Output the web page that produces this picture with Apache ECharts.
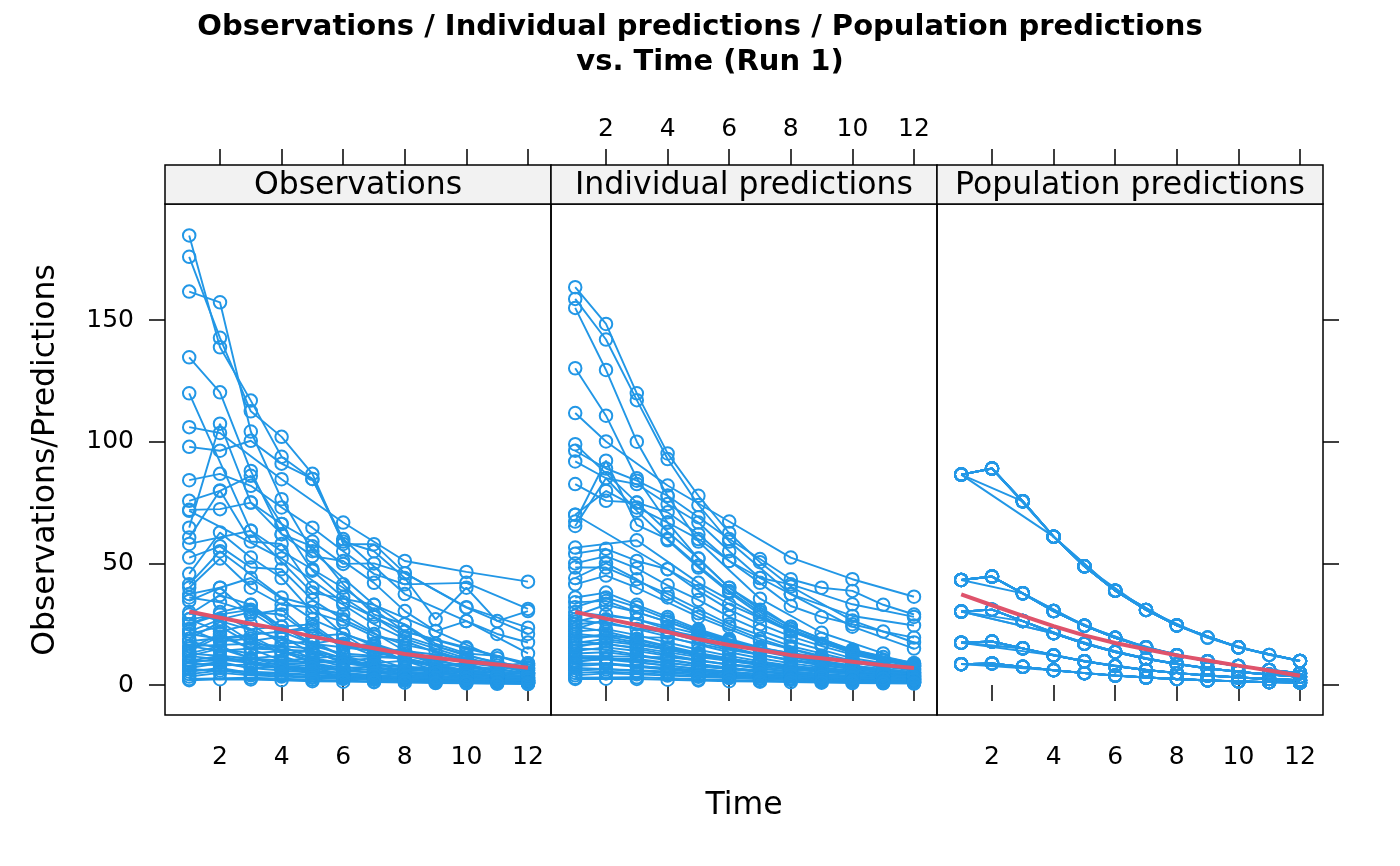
<!DOCTYPE html>
<html>
<head>
<meta charset="utf-8">
<title>Observations / Individual predictions / Population predictions vs. Time</title>
<script src="https://cdn.jsdelivr.net/npm/echarts@6.0.0/dist/echarts.min.js"></script>
<style>
  html, body { margin: 0; padding: 0; background: #fff; }
  #mychart { width: 1400px; height: 866px; }
</style>
</head>
<body>
<div id="mychart"></div>
<script>
// sampling times (h)
var times = [1, 2, 3, 4, 5, 6, 7, 8, 9, 10, 11, 12]
var panelNames = ['Observations', 'Individual predictions', 'Population predictions']
var xTicks = [2, 4, 6, 8, 10, 12]
var yTicks = [0, 50, 100, 150]

// population prediction per dose group
var predGroupA = [86.5, 89.0, 75.5, 61.0, 48.8, 38.8, 30.9, 24.5, 19.5, 15.5, 12.4, 9.9]
var predGroupB = [43.2, 44.6, 37.7, 30.4, 24.4, 19.4, 15.5, 12.3, 9.8, 7.8, 6.2, 4.9]
var predGroupC = [30.2, 31.0, 26.3, 21.3, 17.0, 13.6, 10.8, 8.6, 6.8, 5.4, 4.3, 3.4]
var predGroupD = [17.4, 17.9, 15.1, 12.2, 9.8, 7.8, 6.2, 4.9, 3.9, 3.1, 2.5, 2.0]
var predGroupE = [8.6, 8.9, 7.5, 6.1, 4.9, 3.9, 3.1, 2.5, 1.9, 1.5, 1.2, 1.0]

// dose group of each subject (0=A .. 4=E)
var subjectGroup = [0, 0, 0, 0, 0, 0, 0, 0, 1, 0, 0, 1, 1, 1, 1, 1, 1, 1, 0,
    1, 2, 1, 2, 1, 2, 2, 2, 2, 2, 2, 2, 2, 3, 3, 3, 3, 2, 3, 3, 3, 3, 4, 3, 4, 3, 4, 4, 3, 4, 4, 4, 4, 4, 4]

// individual predictions, one row per subject (null = not sampled)
var subjectIpred = [
    [163.5, 148.4, 119.9, 95.2, 77.8, 62.5, 50.5, 40.5, null, 26.5, null, 17.5],
    [158.7, 142, 117.1, 92.9, 74, 59, null, 37.4, null, 24, null, 15],
    [155, 129.5, 100, 77.8, 59, null, 35.5, null, 21.5, null, 13, null],
    [130.2, 110.7, 85, 66.8, 52, 40, 31, 24, 19, 14.5, 11.5, 9],
    [111.8, 100.1, null, 82, null, 67.2, null, 52.4, null, 43.5, null, 36.3],
    [96.3, 89, 84, 77.8, 69, 60, 51.8, 43.5, 40, 38.7, 33, 29],
    [91.9, 85, 82.6, 74.4, 66.8, 55, 44, 41.4, null, 33.2, null, 28],
    [82.6, 75.7, 75, 71, 62, 51, 44, 37.4, null, 28.4, null, 24.5],
    [70, 79.8, 73, 66.8, 60, 51, 42, 32.5, 28, 25, 22, 19.5],
    [99, null, 75, 63, 52, 40, null, 24, null, 14, null, 8.5],
    [67.2, 92.2, 65.8, 60, 49, 38.7, 30, 23, null, 13.5, null, 8],
    [65.4, 85, 71.6, 59.5, 48.3, 38, 29, 22, null, 13, null, 7.8],
    [56.5, null, 59.5, null, 42, null, 28, null, 17, null, 10.5, 8.2],
    [54, 56, 51, 47.6, 38.7, 31, 25, 20, 16, 12.5, 10, 7.6],
    [50, 53, 48, 41, 35, 28, 22.5, 18, null, 11, null, 7],
    [48.3, 48.3, null, 37.5, null, 25, null, 16, null, 10, null, 6.3],
    [44, 50, 43.5, 36, 29.5, 24, 19, 15, 12, 9.5, 7.5, 6],
    [41.4, 45, 40, null, 28, null, 18, null, 11.5, null, 7.2, null],
    [70, null, null, 47.6, null, 33.2, null, 22, null, 14.5, null, 9],
    [36, 38, 33, 28, 23, 19, 15.5, 12.5, 10, 8, 6.5, 5.2],
    [34, 34.6, 30, 26, 21.5, 17.5, 14, 11.5, null, 7.4, null, 4.8],
    [32, 36, 32, 27, 22.5, 18.5, 15, 12, 9.8, 8, 6.5, 5.3],
    [30, null, 27, null, 19, null, 12.5, null, 8, null, 5.1, 4.1],
    [28.5, 33, 30, 26, 22, 18, 14.5, 11.5, 9.2, 7.3, 5.8, 4.6],
    [27, null, null, 21.5, null, 15, null, 10, null, 6.7, null, 4.5],
    [26, 29, 27, 24, 21, 18, 15.5, 13, 11, 9.3, 7.9, 6.7],
    [25, 26, 23, 20, 16.5, 13.5, 11, 8.9, null, 5.8, null, 3.8],
    [24, 22, 19, null, 13.2, null, 8.8, null, 5.9, null, 3.9, null],
    [23, 27, 25, 22.5, 20, 17.5, 15.2, 13.2, 11.5, 10, 8.7, 7.6],
    [22, 23, 20.5, 17.5, 14.5, 12, 9.8, 8, null, 5.3, null, 3.5],
    [21, 20, 17.5, 15, 12.6, 10.5, 8.8, 7.3, 6.1, 5.1, 4.3, 3.6],
    [20, null, null, 19.5, null, 14.5, null, 10.4, null, 7.4, null, 5.3],
    [19, 21, 18.5, 15.5, 12.8, 10.5, 8.5, 6.9, 5.6, 4.5, 3.7, 3],
    [18, null, 15.5, null, 11.5, null, 8.3, null, 5.9, null, 4.2, 3.6],
    [17.3, 19, 17, 14.5, 12, 10, 8.2, 6.7, null, 4.5, null, 3],
    [16.5, 17, 15, 12.5, 10.3, 8.4, 6.8, 5.5, 4.4, 3.6, 2.9, 2.3],
    [15.5, 18, 16.5, null, 12.5, null, 9.1, null, 6.6, null, 4.8, null],
    [15, 14.5, 12.5, 10.5, 8.7, 7.1, 5.8, 4.7, 3.8, 3.1, 2.5, 2],
    [14, 15.5, 14, 12, 10, 8.3, 6.8, 5.6, null, 3.8, null, 2.5],
    [13, 13.5, 12, 10.2, 8.5, 7, 5.8, 4.8, 3.9, 3.2, 2.6, 2.2],
    [12, null, null, 11.5, null, 8.6, null, 6.3, null, 4.6, null, 3.3],
    [11.5, 11, 9.5, 8, 6.6, 5.4, 4.4, 3.6, 2.9, 2.4, 1.9, 1.6],
    [11, null, 10.7, null, 7.7, null, 5.3, null, 3.6, null, 2.5, 2],
    [10, 10.5, 9.3, 8, 6.7, 5.5, 4.5, 3.7, 3, 2.5, 2, 1.7],
    [9.5, 11, 10.2, 9, 7.8, 6.7, 5.7, 4.9, null, 3.6, null, 2.6],
    [9, 8.6, 7.5, 6.3, 5.2, 4.3, 3.5, 2.9, 2.4, 1.9, 1.6, 1.3],
    [8.5, 9, 8, null, 5.7, null, 3.9, null, 2.6, null, 1.7, null],
    [7.8, 8.5, 7.8, 7, 6.1, 5.3, 4.6, 4, 3.5, 3, 2.6, 2.3],
    [7, null, null, 5.6, null, 3.9, null, 2.6, null, 1.8, null, 1.2],
    [6, 6.5, 5.8, 5, 4.2, 3.5, 2.9, 2.4, 2, 1.7, 1.4, 1.2],
    [5, 5.5, 5, 4.3, 3.7, 3.1, 2.6, 2.2, null, 1.5, null, 1.1],
    [4, 4.8, 4.4, 3.9, 3.4, 2.9, 2.5, 2.1, 1.8, 1.5, 1.3, 1.1],
    [3, null, 3.2, null, 2.4, null, 1.8, null, 1.3, null, 0.95, 0.8],
    [2.5, 2.6, 2.5, 2.2, 1.9, 1.6, 1.4, 1.2, 1, 0.85, 0.7, 0.6]
]

// observations, same subjects and sampling
var subjectObs = [
    [176, 142.7, 112.5, 102, 86.8, 58, 57.9, 46, null, 31.8, null, 21],
    [184.8, 138.8, 116.9, 93.8, 84.7, 60, null, 37.4, null, 26.3, null, 13],
    [161.7, 157.3, 104.2, 76.4, 55, null, 33, null, 22.2, null, 11, null],
    [134.7, 120.3, 88, 62, 57, 41.4, 29, 25, 17, 13, 12, 8],
    [106, 103.6, null, 84.6, null, 66.8, null, 51, null, 46.5, null, 42.5],
    [97.9, 96.3, 100.4, 91, 84.7, 59, 55, 44, 27, 40, 26.3, 30.4],
    [84.2, 86.8, 81.9, 73, 64.7, 55, 45.7, 41.4, null, 42, null, 31.3],
    [75.7, 79.8, 86, 66.2, 59, 49.8, 50, 46, null, 32, null, 23.6],
    [72, 72.3, 75, 62, 53, 51, 42, 30.4, 22.2, 26.3, 21, 17.5],
    [119.9, null, 63.4, 55, 47.6, 40, null, 22, null, 15, null, 9],
    [64.7, 107.4, 75, 66.2, 47, 36, 28, 20, null, 12, null, 7],
    [60.6, 80, 59, 58, 40, 33, 25, 19, null, 11, null, 6],
    [58, null, 63.4, null, 38, null, 33, null, 16, null, 9, 7],
    [52.4, 57, 48.3, 47.6, 35, 27, 21, 16.5, 14, 10, 9.5, 7],
    [45.7, 62.7, 52.4, 44, 30, 26, 20, 18, null, 9, null, 6],
    [41.4, 55, null, 36, null, 29, null, 14, null, 11, null, 5],
    [40, 52, 40, 33, 32, 21, 17, 13, 10, 8, 6.5, 5],
    [37.4, 40, 44, null, 27, null, 16, null, 9, null, 6, null],
    [71.6, null, null, 52, null, 34, null, 22, null, 15.5, null, 8.5],
    [34.6, 40, 29, 31, 20, 21, 13, 14, 8, 9, 5, 4.5],
    [29, 37, 33, 22, 24, 15, 16, 10, null, 6, null, 3.5],
    [36, 34, 30, 29, 20, 17, 12, 14, 11, 6.5, 7, 4],
    [27, null, 31, null, 17, null, 14, null, 6, null, 4, 5],
    [25, 30, 33, 24, 25, 16, 15, 10, 8, 8, 4.5, 5],
    [30, null, null, 19, null, 13, null, 11, null, 5, null, 3],
    [22, 27, 30, 22, 23, 16, 17, 12, 10, 11, 7, 8],
    [27, 22, 25, 17, 18, 12, 9, 10, null, 5, null, 2.5],
    [21, 24, 17, null, 15, null, 7, null, 6.5, null, 3, null],
    [25, 29, 23, 24, 17, 19, 13, 15, 10, 11, 8, 9],
    [19, 26, 18, 20, 13, 10, 11, 7, null, 4, null, 3],
    [23, 18, 19, 13, 14, 9, 8, 8, 5, 6, 3.5, 3],
    [18, null, null, 22, null, 12, null, 11, null, 6, null, 5],
    [21, 19, 20, 14, 11, 12, 7, 6, 6, 3.5, 4, 2],
    [16, null, 17, null, 10, null, 9, null, 5, null, 3.5, 4],
    [15, 21, 15, 16, 11, 9, 9, 5.5, null, 4, null, 2.5],
    [18, 15, 13, 14, 9, 7, 7.5, 4.5, 5, 3, 2.5, 1.5],
    [14, 20, 15, null, 14, null, 8, null, 7, null, 4, null],
    [13, 16, 11, 12, 8, 6, 6.5, 4, 3, 3.5, 2, 1.5],
    [16, 14, 15, 10, 11, 7.5, 6, 5, null, 3, null, 2],
    [12, 15, 11, 9, 9, 6, 5, 5, 3.5, 2.5, 3, 1.5],
    [13, null, null, 10, null, 9, null, 5.5, null, 4, null, 3],
    [10, 12, 9, 7, 7, 4.5, 4, 3, 2.5, 2, 1.5, 1],
    [12, null, 9, null, 8, null, 5, null, 3, null, 2, 1.5],
    [9, 11, 10, 7, 6, 5, 4, 3, 2.5, 2, 1.5, 1],
    [10, 10, 11, 8, 7, 6, 5, 4, null, 3, null, 2],
    [8, 9.5, 7, 6, 5, 4, 3, 2.5, 2, 1.5, 1.2, 1],
    [9, 8, 8.5, null, 5, null, 3.5, null, 2.2, null, 1.5, null],
    [7, 9, 7, 7.5, 5.5, 5, 4, 3.5, 3, 2.5, 2, 2],
    [6.5, null, null, 5, null, 3.5, null, 2.2, null, 1.5, null, 1],
    [5.5, 7, 5, 4.5, 4, 3, 2.5, 2, 1.8, 1.5, 1.2, 1],
    [4.5, 6, 4.5, 4, 3.3, 2.8, 2.3, 2, null, 1.3, null, 0.9],
    [3.5, 5, 4, 3.5, 3, 2.5, 2.2, 1.8, 1.5, 1.3, 1.1, 0.9],
    [2.5, null, 3, null, 2.2, null, 1.5, null, 1.1, null, 0.8, 0.6],
    [2, 2.4, 2.3, 2, 1.6, 1.4, 1.2, 1, 0.8, 0.7, 0.5, 0.4]
]

// smooth (red) lines per panel
var smoothObs = [30.2, 27.7, 25.2, 22.9, 19.9, 17.4, 15.1, 12.8, 11.2, 9.7, 8.5, 7.1]
var smoothIpred = [30.0, 27.3, 24.7, 21.8, 18.8, 16.5, 14.4, 12.3, 11.0, 9.6, 8.2, 7.0]
var smoothPred = [37.3, 32.8, 28.4, 24.2, 20.4, 17.3, 14.7, 12.2, 10.1, 8.0, 6.0, 3.8]

var predByGroup = [predGroupA, predGroupB, predGroupC, predGroupD, predGroupE]
var blue = '#2297E6'
var red = '#DF536B'
var font = 'DejaVu Sans'
var xMin = 0.214, xMax = 12.747
var yMin = -12.3, yMax = 197.7
var panelLeft = 165, panelTop = 204, panelW = 386, panelH = 511, stripH = 39

function toPoints(row) {
    var pts = []
    for (var k = 0; k < times.length; k++) {
        if (row[k] != null) pts.push([times[k], row[k]])
    }
    return pts
}

// pop pred per subject = its dose group's curve at its own sampling times
var subjectPred = subjectIpred.map(function (row, s) {
    return row.map(function (v, k) {
        return v == null ? null : predByGroup[subjectGroup[s]][k]
    })
})

var panelRows = [subjectObs, subjectIpred, subjectPred]
var panelSmooth = [smoothObs, smoothIpred, smoothPred]

var grids = [], xAxes = [], yAxes = [], series = [], graphics = []

for (var p = 0; p < 3; p++) {
    var left = panelLeft + p * panelW
    grids.push({
        left: left, top: panelTop, width: panelW, height: panelH,
        show: true, borderColor: '#000', borderWidth: 1.5, backgroundColor: 'transparent'
    })
    var tickStyle = { color: '#000', width: 1.5 }
    // bottom axis
    xAxes.push({
        gridIndex: p, type: 'value', min: xMin, max: xMax, position: 'bottom',
        axisLine: { show: false }, splitLine: { show: false },
        axisTick: { show: true, inside: false, length: 16, lineStyle: tickStyle, customValues: xTicks },
        axisLabel: { show: p !== 1, customValues: xTicks, margin: 30, color: '#000', fontSize: 25, fontFamily: font }
    })
    // top axis, above the strip
    xAxes.push({
        gridIndex: p, type: 'value', min: xMin, max: xMax, position: 'top', offset: stripH,
        axisLine: { show: false }, splitLine: { show: false },
        axisTick: { show: true, inside: false, length: 16, lineStyle: tickStyle, customValues: xTicks },
        axisLabel: { show: p === 1, customValues: xTicks, margin: 23, color: '#000', fontSize: 25, fontFamily: font }
    })
    yAxes.push({
        gridIndex: p, type: 'value', min: yMin, max: yMax,
        position: p === 2 ? 'right' : 'left',
        axisLine: { show: false }, splitLine: { show: false },
        axisTick: { show: p !== 1, inside: false, length: 16, lineStyle: tickStyle, customValues: yTicks },
        axisLabel: { show: p === 0, customValues: yTicks, margin: 31, color: '#000', fontSize: 25, fontFamily: font }
    })

    panelRows[p].forEach(function (row) {
        series.push({
            type: 'line', xAxisIndex: p * 2, yAxisIndex: p,
            data: toPoints(row),
            symbol: 'circle', symbolSize: 12.5, showAllSymbol: true,
            itemStyle: { color: 'rgba(0,0,0,0)', borderColor: blue, borderWidth: 2 },
            lineStyle: { color: blue, width: 1.9 },
            silent: true, z: 2
        })
    })
    series.push({
        type: 'line', xAxisIndex: p * 2, yAxisIndex: p,
        data: toPoints(panelSmooth[p]),
        symbol: 'none', lineStyle: { color: red, width: 4 },
        silent: true, z: 3
    })

    // strip
    graphics.push({
        type: 'rect', shape: { x: left, y: panelTop - stripH, width: panelW, height: stripH },
        style: { fill: '#f2f2f2', stroke: '#000', lineWidth: 1.5 }, z: 10
    })
    graphics.push({
        type: 'text', x: left + panelW / 2, y: panelTop - stripH / 2 + 1,
        style: { text: panelNames[p], fill: '#000', font: '31.5px "DejaVu Sans"', textAlign: 'center', textVerticalAlign: 'middle' },
        z: 11
    })
}

// titles
graphics.push({
    type: 'text', x: 700, y: 27,
    style: { text: 'Observations / Individual predictions / Population predictions', fill: '#000', font: 'bold 29px "DejaVu Sans"', textAlign: 'center', textVerticalAlign: 'middle' }
})
graphics.push({
    type: 'text', x: 710, y: 62,
    style: { text: 'vs. Time (Run 1)', fill: '#000', font: 'bold 29px "DejaVu Sans"', textAlign: 'center', textVerticalAlign: 'middle' }
})
graphics.push({
    type: 'text', x: panelLeft + 1.5 * panelW, y: 806,
    style: { text: 'Time', fill: '#000', font: '31.5px "DejaVu Sans"', textAlign: 'center', textVerticalAlign: 'middle' }
})
graphics.push({
    type: 'text', x: 46, y: 460, rotation: Math.PI / 2,
    style: { text: 'Observations/Predictions', fill: '#000', font: '31.5px "DejaVu Sans"', textAlign: 'center', textVerticalAlign: 'middle' }
})

var myChart = echarts.init(document.getElementById('mychart'), null, { renderer: 'canvas' })
var option = {
    animation: false,
    backgroundColor: '#fff',
    grid: grids,
    xAxis: xAxes,
    yAxis: yAxes,
    series: series,
    graphic: graphics
}
myChart.setOption(option)
</script>
</body>
</html>
